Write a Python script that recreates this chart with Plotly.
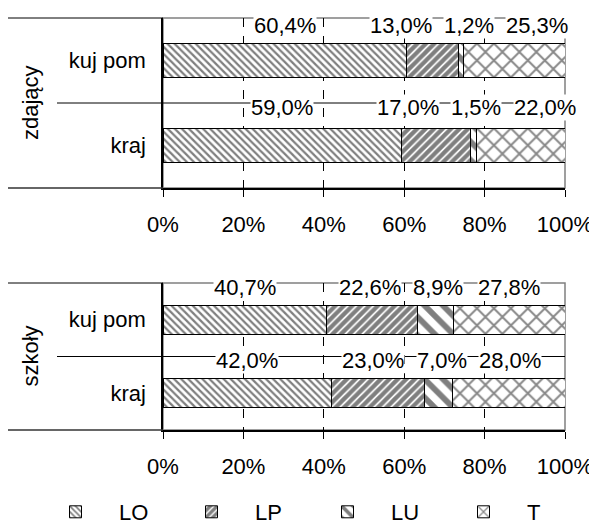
import plotly.graph_objects as go

# ---------------- data ----------------
series = ["LO", "LP", "LU", "T"]
categories = ["kraj", "kuj pom"]          # bottom -> top
groups = ["zdający", "szkoły"]
x_ticks = [0, 20, 40, 60, 80, 100]
x_tick_labels = ["0%", "20%", "40%", "60%", "80%", "100%"]

zdajacy_kuj_pom = [60.4, 13.0, 1.2, 25.3]
zdajacy_kraj = [59.0, 17.0, 1.5, 22.0]
szkoly_kuj_pom = [40.7, 22.6, 8.9, 27.8]
szkoly_kraj = [42.0, 23.0, 7.0, 28.0]

group_values = {
    "zdający": {"kuj pom": zdajacy_kuj_pom, "kraj": zdajacy_kraj},
    "szkoły": {"kuj pom": szkoly_kuj_pom, "kraj": szkoly_kraj},
}

# ---------------- styling ----------------
# the page body has an 8px margin, so the figure is drawn 8px smaller
# and all reference pixel positions are shifted by that margin
OFF = 8
W, H = 597 - OFF, 524 - OFF
FONT = "Liberation Sans"
FS = 22
PLOT_L, PLOT_R = 163 - OFF, 565 - OFF
panels = [  # (top px, bottom px)
    (18 - OFF, 188 - OFF),
    (283 - OFF, 430 - OFF),
]
patterns = {
    "LO": dict(shape="\\", size=5, solidity=0.45, fgcolor="black", bgcolor="white"),
    "LP": dict(shape="/", size=6, solidity=0.7, fgcolor="black", bgcolor="white"),
    "LU": dict(shape="\\", size=13, solidity=0.45, fgcolor="black", bgcolor="white"),
    "T": dict(shape="x", size=12, solidity=0.3, fgcolor="#111111", bgcolor="white"),
}

def fmt(v):
    return f"{v:.1f}".replace(".", ",") + "%"

def text_width(s):
    em = {",": 0.278, "%": 0.889}
    return sum(em.get(c, 0.556) for c in s) * FS

fig = go.Figure()
shapes = []
annotations = []
px_per_unit = (PLOT_R - PLOT_L) / 100.0

for gi, g in enumerate(groups):
    xa = "x" if gi == 0 else f"x{gi + 1}"
    ya = "y" if gi == 0 else f"y{gi + 1}"
    for si, s in enumerate(series):
        fig.add_trace(go.Bar(
            name=s,
            orientation="h",
            y=categories,
            x=[group_values[g][c][si] for c in categories],
            xaxis=xa, yaxis=ya,
            width=0.4,
            marker=dict(color="white", pattern=patterns[s],
                        line=dict(color="black", width=1)),
            legendgroup=s,
            showlegend=(gi == 0),
        ))

    top, bot = panels[gi]
    lay_x = "xaxis" if gi == 0 else f"xaxis{gi + 1}"
    lay_y = "yaxis" if gi == 0 else f"yaxis{gi + 1}"
    fig.update_layout(**{
        lay_x: dict(
            domain=[PLOT_L / W, PLOT_R / W], anchor=ya, range=[0, 100],
            tickmode="array", tickvals=x_ticks, ticktext=x_tick_labels,
            ticks="outside", ticklen=7, tickcolor="black", tickwidth=1,
            showline=True, linecolor="black", linewidth=1.5,
            showgrid=True, gridcolor="black", griddash="dash", gridwidth=1,
            zeroline=False, tickfont=dict(size=FS, color="black"),
            ticklabelstandoff=9, fixedrange=True, automargin=False,
        ),
        lay_y: dict(
            domain=[1 - bot / H, 1 - top / H], anchor=xa,
            type="category", categoryorder="array", categoryarray=categories,
            range=[-0.5, 1.5], showline=True, linecolor="black", linewidth=1.5,
            ticks="", showgrid=False, zeroline=False,
            tickfont=dict(size=FS, color="black"), ticklabelstandoff=11,
            fixedrange=True, automargin=False,
        ),
    })

    # frame (grey top & right)
    shapes.append(dict(type="rect", xref=f"{xa} domain", yref=f"{ya} domain",
                       x0=0, x1=1, y0=0, y1=1, line=dict(color="#808080", width=1.5),
                       layer="below"))
    # multi-level category separators
    shapes.append(dict(type="line", xref="paper", yref=f"{ya} domain",
                       x0=0, x1=PLOT_L / W, y0=1, y1=1,
                       line=dict(color="black", width=1)))
    shapes.append(dict(type="line", xref="paper", yref=f"{ya} domain",
                       x0=0, x1=PLOT_L / W, y0=0, y1=0,
                       line=dict(color="#333333", width=1.5)))
    shapes.append(dict(type="line", xref="paper", yref=f"{ya} domain",
                       x0=(57 - OFF) / W, x1=PLOT_R / W, y0=0.5, y1=0.5,
                       line=dict(color="black", width=1), layer="below"))
    # group title
    annotations.append(dict(text=g, xref="paper", yref=f"{ya} domain",
                            x=(30 - OFF) / W, y=0.5, xanchor="center",
                            yanchor="middle", textangle=-90, showarrow=False,
                            font=dict(size=FS, color="black")))

    # data labels, placed above each bar and spread to avoid overlap
    for ci, c in enumerate(categories):
        vals = group_values[g][c]
        total = sum(vals)
        texts = [fmt(v) for v in vals]
        widths = [text_width(t) for t in texts]
        centers = []
        cum = 0.0
        for v in vals:
            centers.append((cum + v / 2) / total * 100 * px_per_unit)
            cum += v
        gap = 12
        for _ in range(300):
            for i in range(len(centers) - 1):
                need = (widths[i] + widths[i + 1]) / 2 + gap
                d = centers[i + 1] - centers[i]
                if d < need:
                    push = (need - d) / 2
                    centers[i] -= push
                    centers[i + 1] += push
        # labels on the top edge of the plot area are kept inside it
        ysh = -7 if (gi == 0 and ci == len(categories) - 1) else -4
        for t, cx in zip(texts, centers):
            annotations.append(dict(
                text=t, xref=xa, yref=ya, x=cx / px_per_unit, y=ci + 0.5,
                xanchor="center", showarrow=False, bgcolor="white",
                borderpad=0, yshift=ysh, font=dict(size=FS, color="black"),
            ))

fig.update_layout(
    width=W, height=H,
    margin=dict(l=0, r=0, t=0, b=0, autoexpand=False),
    paper_bgcolor="white", plot_bgcolor="white",
    barmode="stack", barnorm="percent",
    font=dict(family=FONT, size=FS, color="black"),
    shapes=shapes, annotations=annotations,
    showlegend=True,
    legend=dict(orientation="h", x=(32 - OFF) / W, xanchor="left",
                y=-9 / H, yanchor="bottom", entrywidth=44,
                entrywidthmode="pixels", itemwidth=77,
                font=dict(size=FS, color="black"),
                traceorder="normal", bgcolor="rgba(0,0,0,0)"),
)

fig.write_html("out.html")
